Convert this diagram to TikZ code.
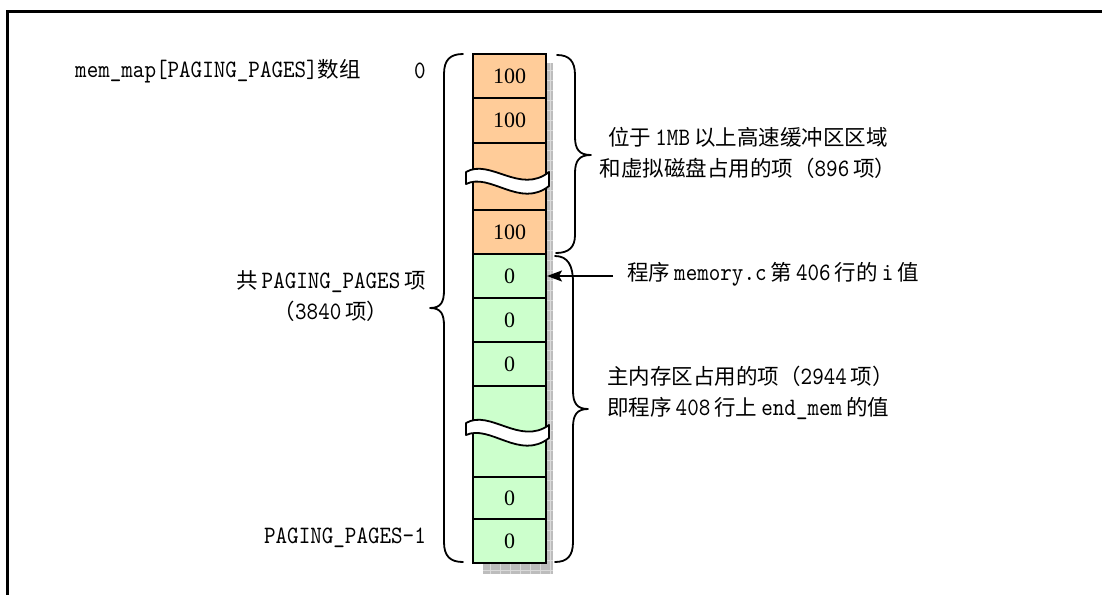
\documentclass[tikz,border=0pt]{standalone}
\usepackage{fontspec}
\newfontfamily\zh{Noto Sans CJK SC}[Scale=0.86]
\newfontfamily\mono{lmmono10-regular.otf}[FakeStretch=0.88]
\newfontfamily\tnr{Liberation Serif}
\usetikzlibrary{arrows.meta}
\newcommand\zc[1]{{\zh #1}}
\newcommand\gp{\hspace{4pt}}
\definecolor{orangec}{HTML}{FFCC99}
\definecolor{greenc}{HTML}{CCFFCC}
\definecolor{shadowc}{HTML}{BDBDBD}
\definecolor{gridc}{HTML}{DADADA}
\tikzset{
  cell/.style={draw=black, line width=2pt, minimum width=73pt, inner sep=0pt,
    font=\tnr\fontsize{22}{26}\selectfont},
  ocell/.style={cell, fill=orangec},
  gcell/.style={cell, fill=greenc},
  lbl/.style={inner sep=0pt, font=\mono\fontsize{25}{31}\selectfont},
  bracec/.style={line width=1.8pt, line cap=round, line join=round},
  band/.style={fill=white, draw=black, line width=1.8pt, line join=round},
  arr/.style={line width=1.8pt, -{Stealth[length=15pt,width=11pt,inset=3pt]}},
  framec/.style={line width=3pt},
}
\begin{document}
\begin{tikzpicture}[x=1pt,y=-1pt]
\useasboundingbox (0,0) rectangle (1102,595);
% frame
\draw[framec] (1102,11) -- (7,11) -- (7,595);
% shadow
\fill[shadowc] (483,63) rectangle (553,574);
\draw[gridc, line width=0.5pt, step=10pt] (483,63) grid (553,574);
% cells
\node[ocell, minimum height=44pt] (o1) at (509.5,76) {100};
\node[ocell, minimum height=45pt] (o2) at (509.5,120.5) {100};
\node[ocell, minimum height=67pt] (o3) at (509.5,176.5) {};
\node[ocell, minimum height=44pt] (o4) at (509.5,232) {100};
\node[gcell, minimum height=44pt] (g1) at (509.5,276) {0};
\node[gcell, minimum height=44pt] (g2) at (509.5,320) {0};
\node[gcell, minimum height=44pt] (g3) at (509.5,364) {0};
\node[gcell, minimum height=91pt] (g4) at (509.5,431.5) {};
\node[gcell, minimum height=42pt] (g5) at (509.5,498) {0};
\node[gcell, minimum height=44pt] (g6) at (509.5,541) {0};
% break bands
\draw[band] (466,172) .. controls (490,158) and (520,195) .. (549,172)
  -- (549,186) .. controls (520,209) and (490,172) .. (466,184) -- cycle;
\draw[band] (466,423) .. controls (490,409) and (520,446) .. (549,425)
  -- (549,438) .. controls (520,461) and (490,424) .. (466,435) -- cycle;
% braces
\draw[bracec] (463,54) .. controls (450,54) and (444,60) .. (444,74)
  -- (444,290) .. controls (444,302) and (441,308) .. (430,308)
  .. controls (441,308) and (444,314) .. (444,326)
  -- (444,542) .. controls (444,556) and (450,562) .. (463,562);
\draw[bracec] (557,55) .. controls (569,55) and (575,61) .. (575,75)
  -- (575,137) .. controls (575,149) and (579,155) .. (591,155)
  .. controls (579,155) and (575,161) .. (575,173)
  -- (575,235) .. controls (575,247) and (569,253) .. (556,253);
\draw[bracec] (555,256) .. controls (568,256) and (573,266) .. (573,282)
  -- (573,391) .. controls (573,403) and (577,409) .. (588,409)
  .. controls (577,409) and (573,415) .. (573,427)
  -- (573,542) .. controls (573,556) and (567,562) .. (555,562);
% labels
\node[lbl, anchor=west] (title) at (75,71) {mem\_map[PAGING\_PAGES]\zc{数组}};
\node[lbl] (zero) at (420,71) {0};
\node[lbl, align=center] (total) at (331,296)
  {\zc{共}\gp PAGING\_PAGES\gp\zc{项}\\\zc{（}3840\gp\zc{项）}};
\node[lbl, anchor=east] (last) at (426,538) {PAGING\_PAGES-1};
\node[lbl, align=center] (rtop) at (748,152.5)
  {\zc{位于}\gp 1MB\gp\zc{以上高速缓冲区区域}\\\zc{和虚拟磁盘占用的项（}896\gp\zc{项）}};
\node[lbl, anchor=west] (ival) at (627,274)
  {\zc{程序}\gp memory.c\gp\zc{第}\gp 406\gp\zc{行的}\gp i\gp\zc{值}};
\node[lbl, anchor=west, align=left] (rbot) at (607,392.5)
  {\zc{主内存区占用的项（}2944\gp\zc{项）}\\\zc{即程序}\gp 408\gp\zc{行上}\gp end\_mem\gp\zc{的值}};
% arrow
\draw[arr, shorten <=14pt] (ival.west |- g1.east) -- (g1.east);
\end{tikzpicture}
\end{document}
